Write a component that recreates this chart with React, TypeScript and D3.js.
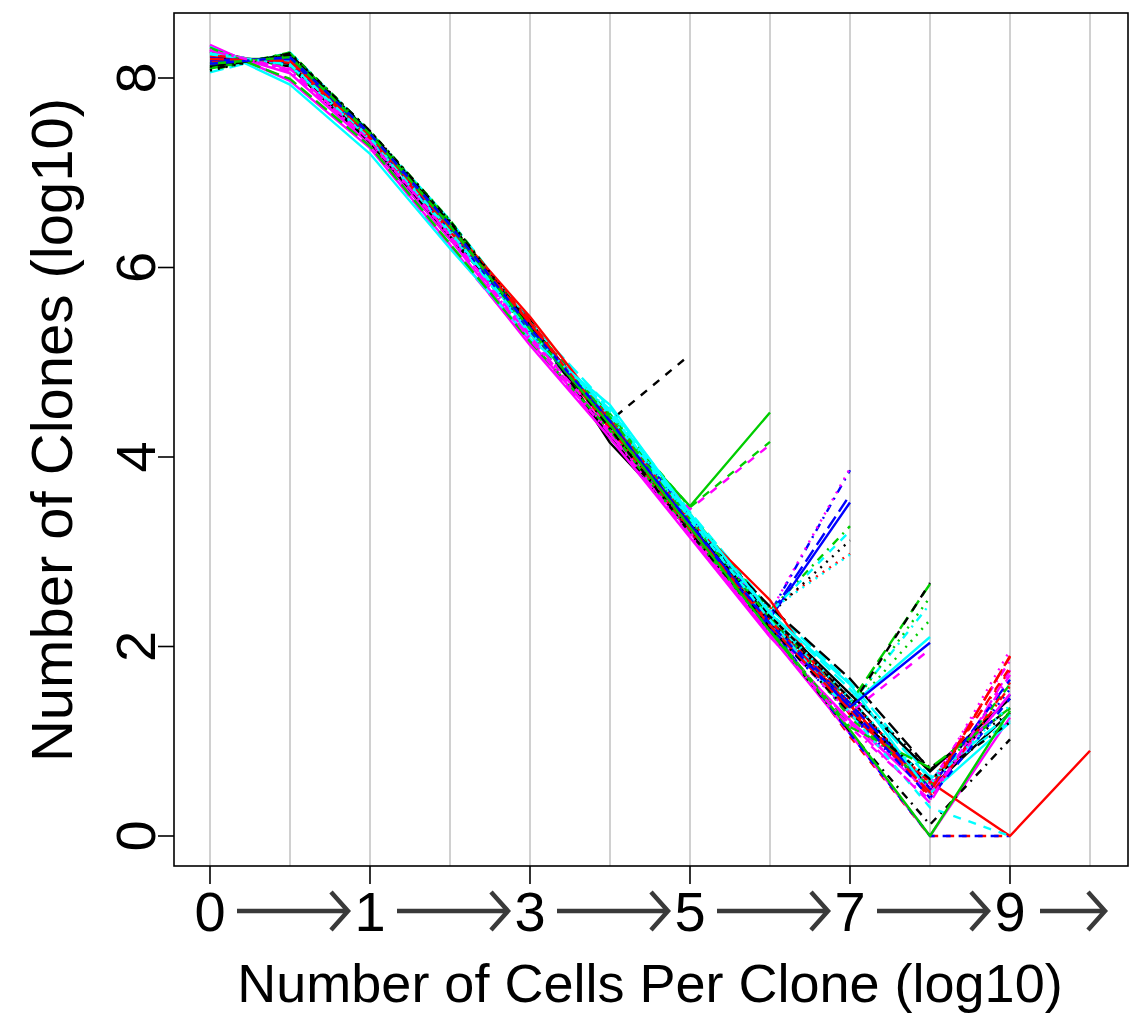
import React from "react";
import * as d3 from "d3";

// ---- data ----
const xIndex = [0, 1, 2, 3, 4, 5, 6, 7, 8, 9, 10, 11];
const xTickIdx = [0, 2, 4, 6, 8, 10];
const xTickLabels = ["0", "1", "3", "5", "7", "9"];
const yTicks = [0, 2, 4, 6, 8];

const palette = ["#000000", "#FF0000", "#00CD00", "#0000FF", "#00FFFF", "#FF00FF"];
const dashPatterns = ["", "8,8", "2,6", "2,6,8,6", "14,6"];

// series ending at x-index 6
const endAt6Ids = [6];
const endAt6 = [[8.12, 8.25, 7.4, 6.45, 5.4, 4.38, 5.08]];

// series ending at x-index 7
const endAt7Ids = [11, 20, 26];
const endAt7 = [
  [8.28, 8.1, 7.36, 6.35, 5.3, 4.36, 3.45, 4.13],
  [8.2, 8.2, 7.38, 6.4, 5.35, 4.4, 3.48, 4.47],
  [8.1, 8.26, 7.42, 6.48, 5.32, 4.45, 3.47, 4.16],
];

// series ending at x-index 8
const endAt8Ids = [3, 7, 8, 9, 12, 15, 16, 17, 22];
const endAt8 = [
  [8.15, 8.22, 7.4, 6.42, 5.33, 4.36, 3.35, 2.35, 3.86],
  [8.24, 8.16, 7.38, 6.39, 5.35, 4.34, 3.3, 2.4, 2.98],
  [8.08, 8.27, 7.44, 6.5, 5.4, 4.44, 3.4, 2.38, 3.27],
  [8.18, 8.2, 7.41, 6.44, 5.36, 4.38, 3.36, 2.33, 3.6],
  [8.1, 8.25, 7.43, 6.46, 5.37, 4.37, 3.35, 2.34, 3.12],
  [8.2, 8.19, 7.39, 6.43, 5.38, 4.41, 3.38, 2.3, 3.52],
  [8.22, 8.17, 7.37, 6.4, 5.34, 4.42, 3.37, 2.36, 3.22],
  [8.3, 8.08, 7.34, 6.38, 5.28, 4.32, 3.32, 2.36, 3.88],
  [8.26, 8.14, 7.36, 6.37, 5.31, 4.39, 3.34, 2.38, 2.97],
];

// series ending at x-index 9
const endAt9Ids = [2, 10, 14, 28, 32, 36, 41, 45];
const endAt9 = [
  [8.16, 8.21, 7.4, 6.42, 5.33, 4.4, 3.31, 2.27, 1.33, 2.28],
  [8.23, 8.15, 7.37, 6.38, 5.32, 4.46, 3.36, 2.25, 1.37, 2.1],
  [8.27, 8.12, 7.35, 6.36, 5.3, 4.33, 3.28, 2.3, 1.4, 2.66],
  [8.2, 8.18, 7.38, 6.41, 5.36, 4.43, 3.33, 2.32, 1.38, 2.45],
  [8.12, 8.24, 7.43, 6.47, 5.39, 4.39, 3.32, 2.29, 1.35, 2.52],
  [8.14, 8.23, 7.42, 6.45, 5.38, 4.35, 3.3, 2.28, 1.35, 2.67],
  [8.29, 8.1, 7.34, 6.34, 5.27, 4.3, 3.25, 2.18, 1.3, 1.97],
  [8.19, 8.2, 7.4, 6.43, 5.37, 4.37, 3.29, 2.2, 1.36, 2.04],
];

// series touching zero near the tail
const zeroTailIds = [1, 5, 18, 21, 25, 46, 50];
const zeroTail = [
  [8.17, 8.2, 7.39, 6.42, 5.34, 4.36, 3.27, 2.2, 1.05, 0, 0],
  [8.3, 8.05, 7.3, 6.3, 5.22, 4.25, 3.2, 2.12, 1.08, 0, 1.25],
  [8.09, 8.26, 7.44, 6.49, 5.39, 4.31, 3.22, 2.15, 1.1, 0.12, 1.02],
  [8.13, 8.24, 7.42, 6.46, 5.36, 4.38, 3.3, 2.22, 1.08, 0, 0],
  [8.21, 8.18, 7.4, 6.44, 5.48, 4.4, 3.33, 2.49, 1.28, 0.57, 0, 0.9],
  [8.25, 8.15, 7.37, 6.39, 5.33, 4.47, 3.35, 2.28, 1.3, 0.3, 0],
  [8.15, 8.22, 7.41, 6.44, 5.35, 4.34, 3.26, 2.16, 1.12, 0, 1.32],
];

// series running to x-index 10
const fullIds = [0, 4, 13, 19, 23, 24, 27, 29, 30, 31, 33, 34, 35, 37, 38, 39, 40, 42, 43, 44, 47, 48, 49, 51, 52, 53];
const fullRuns = [
  [8.28, 8.12, 7.3, 6.3, 5.45, 4.15, 3.25, 2.3, 1.45, 0.5, 1.3],
  [8.06, 8.27, 7.43, 6.5, 5.42, 4.52, 3.42, 2.4, 1.62, 0.62, 1.28],
  [8.2, 8.19, 7.41, 6.45, 5.44, 4.33, 3.22, 2.34, 1.4, 0.4, 1.62],
  [8.18, 8.2, 7.38, 6.4, 5.36, 4.3, 3.24, 2.3, 1.38, 0.48, 1.89],
  [8.31, 8.07, 7.33, 6.32, 5.26, 4.27, 3.2, 2.15, 1.18, 0.55, 1.85],
  [8.11, 8.25, 7.42, 6.46, 5.38, 4.36, 3.3, 2.42, 1.66, 0.7, 1.35],
  [8.16, 8.21, 7.4, 6.43, 5.36, 4.35, 3.26, 2.2, 1.28, 0.45, 1.55],
  [8.34, 7.98, 7.27, 6.22, 5.2, 4.22, 3.18, 2.12, 1.2, 0.35, 1.75],
  [8.22, 8.15, 7.32, 6.33, 5.4, 4.2, 3.28, 2.32, 1.5, 0.68, 1.45],
  [8.23, 8.17, 7.37, 6.4, 5.42, 4.3, 3.22, 2.26, 1.35, 0.5, 1.78],
  [8.17, 8.22, 7.41, 6.44, 5.35, 4.33, 3.25, 2.19, 1.3, 0.48, 1.49],
  [8.26, 8.14, 7.35, 6.36, 5.3, 4.5, 3.38, 2.36, 1.55, 0.6, 1.22],
  [8.35, 7.97, 7.26, 6.24, 5.18, 4.2, 3.15, 2.1, 1.22, 0.45, 1.5],
  [8.19, 8.19, 7.39, 6.41, 5.37, 4.34, 3.27, 2.24, 1.42, 0.55, 1.75],
  [8.14, 8.23, 7.42, 6.47, 5.34, 4.42, 3.34, 2.3, 1.25, 0.52, 1.6],
  [8.21, 8.17, 7.38, 6.4, 5.33, 4.36, 3.28, 2.26, 1.4, 0.5, 1.65],
  [8.33, 7.93, 7.2, 6.2, 5.25, 4.55, 3.4, 2.35, 1.6, 0.45, 1.2],
  [8.08, 8.26, 7.44, 6.49, 5.4, 4.32, 3.24, 2.25, 1.5, 0.72, 1.3],
  [8.24, 8.16, 7.36, 6.38, 5.43, 4.31, 3.23, 2.27, 1.38, 0.42, 1.58],
  [8.32, 7.99, 7.28, 6.25, 5.22, 4.28, 3.2, 2.18, 1.15, 0.72, 1.35],
  [8.3, 8.08, 7.32, 6.33, 5.25, 4.26, 3.19, 2.13, 1.2, 0.5, 1.96],
  [8.12, 8.24, 7.43, 6.47, 5.38, 4.3, 3.2, 2.2, 1.3, 0.6, 1.2],
  [8.2, 8.18, 7.39, 6.42, 5.41, 4.35, 3.26, 2.22, 1.33, 0.46, 1.9],
  [8.15, 8.22, 7.41, 6.45, 5.36, 4.38, 3.3, 2.24, 1.36, 0.4, 1.45],
  [8.27, 8.13, 7.35, 6.37, 5.31, 4.48, 3.36, 2.33, 1.45, 0.55, 1.38],
  [8.29, 8.09, 7.33, 6.33, 5.24, 4.24, 3.18, 2.11, 1.15, 0.38, 1.7],
];

const xTitle = "Number of Cells Per Clone (log10)";
const yTitle = "Number of Clones (log10)";

// ---- layout ----
const W = 1137;
const H = 1013;
const box = { left: 174, right: 1128, top: 13, bottom: 866 };
const FONT = "'Liberation Sans', Arial, Helvetica, sans-serif";

export default function App() {
  const x = d3.scaleLinear().domain([0, 11]).range([210, 1090]);
  const y = d3.scaleLinear().domain([0, 8]).range([836, 78]);

  const groups: [number[], number[][]][] = [
    [endAt6Ids, endAt6],
    [endAt7Ids, endAt7],
    [endAt8Ids, endAt8],
    [endAt9Ids, endAt9],
    [zeroTailIds, zeroTail],
    [fullIds, fullRuns],
  ];
  const all: { id: number; vals: number[] }[] = [];
  groups.forEach(([ids, rows]) => ids.forEach((id, k) => all.push({ id, vals: rows[k] })));
  all.sort((a, b) => a.id - b.id);

  const line = d3
    .line<number>()
    .x((_, i) => x(xIndex[i]))
    .y((d) => y(d));

  const arrowY = 911;

  return (
    <svg
      width={W}
      height={H}
      style={{ position: "absolute", left: 0, top: 0, background: "#fff" }}
      fontFamily={FONT}
    >
      <rect x={0} y={0} width={W} height={H} fill="#fff" />
      {/* grid */}
      {xIndex.map((i) => (
        <line key={"g" + i} x1={x(i)} x2={x(i)} y1={box.top} y2={box.bottom} stroke="#D0D0D0" strokeWidth={2} />
      ))}
      {/* series */}
      <g fill="none" strokeWidth={2.4} strokeLinejoin="round">
        {all.map((s) => (
          <path
            key={"s" + s.id}
            d={line(s.vals) || ""}
            stroke={palette[s.id % 6]}
            strokeDasharray={dashPatterns[s.id % 5] || undefined}
          />
        ))}
      </g>
      {/* box */}
      <rect
        x={box.left}
        y={box.top}
        width={box.right - box.left}
        height={box.bottom - box.top}
        fill="none"
        stroke="#000"
        strokeWidth={1.6}
      />
      {/* y axis */}
      {yTicks.map((t) => (
        <g key={"y" + t}>
          <line x1={158} x2={box.left} y1={y(t)} y2={y(t)} stroke="#000" strokeWidth={1.6} />
          <text
            transform={`translate(155,${y(t)}) rotate(-90)`}
            textAnchor="middle"
            fontSize={56}
            fill="#000"
          >
            {t}
          </text>
        </g>
      ))}
      {/* x axis */}
      {xTickIdx.map((t, k) => {
        const cx = x(t);
        const start = cx + (k === 5 ? 30 : 27);
        const end = cx + (k === 5 ? 95 : 138);
        return (
          <g key={"x" + t}>
            <line x1={cx} x2={cx} y1={box.bottom} y2={884} stroke="#000" strokeWidth={1.6} />
            <text x={cx} y={931} textAnchor="middle" fontSize={56} fill="#000">
              {xTickLabels[k]}
            </text>
            <path
              d={`M${start},${arrowY}H${end}M${end - 17},${arrowY - 19}L${end},${arrowY}L${end - 17},${arrowY + 19}`}
              fill="none"
              stroke="#3a3a3a"
              strokeWidth={4.5}
            />
          </g>
        );
      })}
      {/* titles */}
      <text x={650} y={1002} textAnchor="middle" fontSize={54} fill="#000">
        {xTitle}
      </text>
      <text transform={`translate(72,430) rotate(-90)`} textAnchor="middle" fontSize={58} fill="#000">
        {yTitle}
      </text>
    </svg>
  );
}
